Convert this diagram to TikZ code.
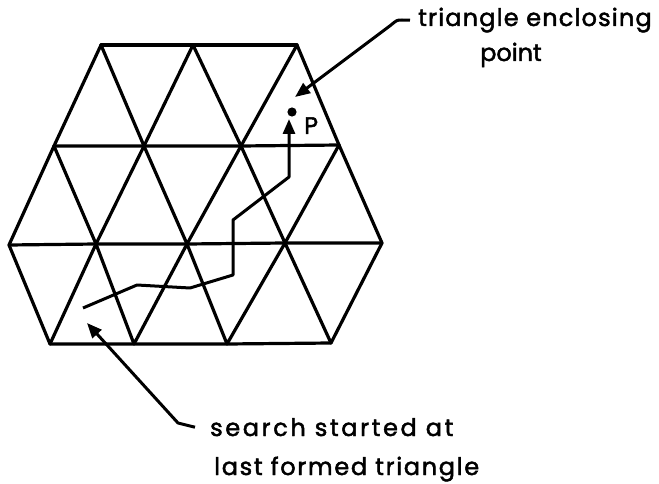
\documentclass[tikz,border=0pt]{standalone}
\usepackage{fontspec}
\setmainfont{Poppins}
\newfontfamily\plotA[FakeBold=2,LetterSpace=4.9]{Poppins}
\newfontfamily\plotB[FakeBold=2,LetterSpace=10.9]{Poppins}
\newfontfamily\plotC[FakeBold=2,LetterSpace=7]{Poppins}
\newfontfamily\plotD[FakeBold=2]{Poppins}
\usetikzlibrary{arrows.meta}
\begin{document}
\begin{tikzpicture}[x=1pt,y=-1pt,
  grid/.style={line width=3.2pt,line cap=round,line join=round},
  pointer/.style={line width=3pt,line join=round,-{Triangle[length=15pt,width=12pt]}},
  lbl/.style={inner sep=0pt}]
\useasboundingbox (0,0) rectangle (659,484);
% vertices
\coordinate (a0) at (101,45); \coordinate (a1) at (193,45); \coordinate (a2) at (297,45);
\coordinate (b0) at (54,146); \coordinate (b1) at (144,146); \coordinate (b2) at (241,146); \coordinate (b3) at (339,145);
\coordinate (c0) at (9,245); \coordinate (c1) at (96,244); \coordinate (c2) at (187,244); \coordinate (c3) at (285,243); \coordinate (c4) at (382,243);
\coordinate (d0) at (50,344); \coordinate (d1) at (134,344); \coordinate (d2) at (227,344); \coordinate (d3) at (331,343);
% horizontal lines
\draw[grid] (a0) -- (a1) -- (a2);
\draw[grid] (b0) -- (b1) -- (b2) -- (b3);
\draw[grid] (c0) -- (c1) -- (c2) -- (c3) -- (c4);
\draw[grid] (d0) -- (d1) -- (d2) -- (d3);
% slanted lines
\draw[grid] (b0) -- (a0) -- (b1) -- (a1) -- (b2) -- (a2) -- (b3);
\draw[grid] (c0) -- (b0) -- (c1) -- (b1) -- (c2) -- (b2) -- (c3) -- (b3) -- (c4);
\draw[grid] (c0) -- (d0) -- (c1) -- (d1) -- (c2) -- (d2) -- (c3) -- (d3) -- (c4);
% point P
\fill (292,112) circle (4.6pt) coordinate (pt);
\node[lbl,font=\plotD\fontsize{24}{28}\selectfont,anchor=base west] (plabel) at (304,134) {P};
% search path
\coordinate (s0) at (83,308);
\coordinate (s6) at (289,119);
\draw[pointer] (s0) -- (137,285) -- (190,288) -- (233,275) -- (233,220) -- (289,177) -- (s6);
% labels
\node[lbl,font=\plotA\fontsize{24}{28}\selectfont,anchor=base west] (top1) at (418,26) {triangle enclosing};
\node[lbl,font=\plotD\fontsize{24}{28}\selectfont,anchor=base] (top2) at (511,61) {point};
\node[lbl,font=\plotB\fontsize{24}{28}\selectfont,anchor=base west] (bot1) at (210,436) {search started at};
\node[lbl,font=\plotC\fontsize{24}{28}\selectfont,anchor=base west] (bot2) at (214,475) {last formed triangle};
% pointers
\coordinate (tipA) at (295,97);
\coordinate (tipB) at (87,323);
\draw[pointer] (top1.west) ++(-8,0) coordinate (tA) (tA) -- (402,20) .. controls (397,20) .. (391,25) -- (tipA);
\draw[pointer] (bot1.west) ++(-15,0) coordinate (tB) (tB) -- (178,423) -- (tipB);
\end{tikzpicture}
\end{document}
